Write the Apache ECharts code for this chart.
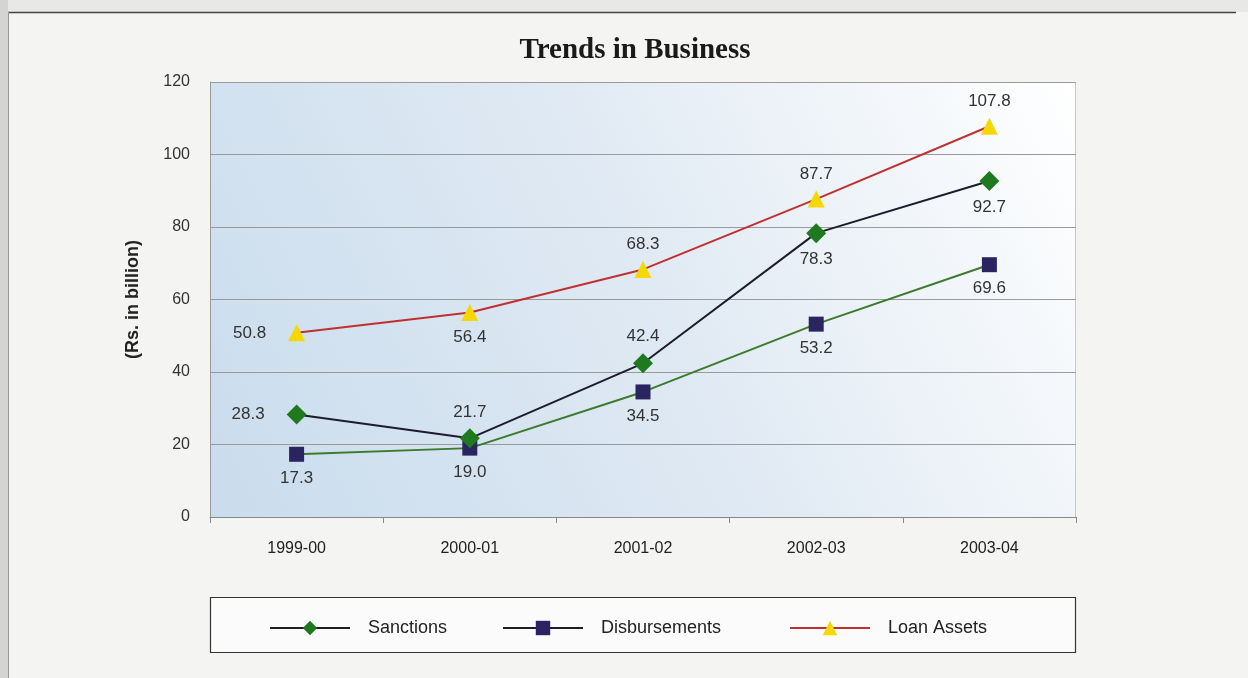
<!DOCTYPE html>
<html><head><meta charset="utf-8">
<script src="https://cdn.jsdelivr.net/npm/echarts@6/dist/echarts.min.js"></script>
<style>html,body{margin:0;padding:0;background:#ececea;}#c{width:1248px;height:678px;}</style>
</head><body><div id="c"></div>
<script>
const categories = ['1999-00','2000-01','2001-02','2002-03','2003-04'];
const sanctions = [28.3, 21.7, 42.4, 78.3, 92.7];
const disbursements = [17.3, 19.0, 34.5, 53.2, 69.6];
const loanAssets = [50.8, 56.4, 68.3, 87.7, 107.8];
const yTicks = [0, 20, 40, 60, 80, 100, 120];

const sancPos = ['left','top','top','bottom','bottom'];
const disbPos = ['bottom','bottom','bottom','bottom','bottom'];
const loanPos = ['left','bottom','top','top','top'];

function withLabels(vals, pos) {
  return vals.map((v, i) => ({ value: v, label: { position: pos[i], distance: pos[i] === 'left' ? 22 : 8 } }));
}

const chart = echarts.init(document.getElementById('c'), null, { renderer: 'canvas' });
const FONT = 'Liberation Sans, Arial, sans-serif';
const labelBase = { show: true, fontFamily: FONT, fontSize: 17, color: '#333', distance: 8, formatter: p => p.value.toFixed(1) };

function legendAt(name, left, lineColor) {
  return {
    left: left, top: 614, itemWidth: 80, itemHeight: 18,
    textStyle: { fontFamily: FONT, fontSize: 18, color: '#222', padding: [0, 0, 0, 13] },
    data: [{ name: name, lineStyle: { color: lineColor, width: 2 } }]
  };
}

chart.setOption({
  backgroundColor: '#f4f4f2',
  animation: false,
  graphic: [
    { type: 'rect', shape: { x: 0, y: 0, width: 1248, height: 12 }, style: { fill: '#e8e8e6' }, silent: true, z: -10 },
    { type: 'rect', shape: { x: 0, y: 0, width: 8, height: 678 }, style: { fill: '#d4d4d2' }, silent: true, z: -10 },
    { type: 'line', shape: { x1: 8, y1: 12.5, x2: 1236, y2: 12.5 }, style: { stroke: '#444', lineWidth: 1.5 }, silent: true },
    { type: 'line', shape: { x1: 8.5, y1: 12, x2: 8.5, y2: 678 }, style: { stroke: '#999', lineWidth: 1 }, silent: true },
    { type: 'rect', shape: { x: 210.5, y: 597.5, width: 865, height: 55 }, style: { fill: '#fbfbfb', stroke: '#333', lineWidth: 1.2 }, silent: true, z: -1 },
    { type: 'rect', shape: { x: 210, y: 82, width: 866, height: 435 },
      style: { fill: new echarts.graphic.LinearGradient(0, 1, 1, 0, [
        { offset: 0, color: '#c9dced' }, { offset: 0.5, color: '#dfe9f3' }, { offset: 0.8, color: '#f2f6fa' }, { offset: 1, color: '#ffffff' }]) },
      silent: true, z: -5 },
    { type: 'line', shape: { x1: 1075.5, y1: 82, x2: 1075.5, y2: 517 }, style: { stroke: '#c8c8c8', lineWidth: 1 }, silent: true }
  ],
  title: {
    text: 'Trends in Business', left: 630, top: 31, textAlign: 'center',
    textStyle: { fontFamily: 'Liberation Serif, DejaVu Serif, serif', fontSize: 29, fontWeight: 'bold', color: '#1a1a1a' }
  },
  grid: { left: 210, right: 172, top: 82, bottom: 161 },
  legend: [
    legendAt('Sanctions', 264, '#1c1c2c'),
    legendAt('Disbursements', 497, '#1c1c2c'),
    legendAt('Loan Assets', 784, '#c03030')
  ],
  xAxis: {
    type: 'category', data: categories, boundaryGap: true,
    axisLine: { lineStyle: { color: '#888' } },
    axisTick: { show: true, length: 6, lineStyle: { color: '#888' } },
    axisLabel: { fontFamily: FONT, fontSize: 16, color: '#222', margin: 24 }
  },
  yAxis: {
    type: 'value', min: yTicks[0], max: yTicks[yTicks.length - 1], interval: 20,
    name: '(Rs. in billion)', nameLocation: 'middle', nameGap: 68, nameRotate: 90,
    nameTextStyle: { fontFamily: FONT, fontSize: 18, fontWeight: 'bold', color: '#222' },
    axisLine: { show: true, lineStyle: { color: '#999' } },
    axisTick: { show: false },
    axisLabel: { fontFamily: FONT, fontSize: 16, color: '#333', margin: 20 },
    splitLine: { show: true, lineStyle: { color: '#9a9a9a', width: 1 } }
  },
  series: [
    { name: 'Sanctions', type: 'line', data: withLabels(sanctions, sancPos),
      symbol: 'diamond', symbolSize: 20,
      itemStyle: { color: '#1f7a1f' }, lineStyle: { color: '#1c1c2c', width: 2 },
      label: labelBase, z: 4 },
    { name: 'Disbursements', type: 'line', data: withLabels(disbursements, disbPos),
      symbol: 'rect', symbolSize: 15,
      itemStyle: { color: '#2a2560' }, lineStyle: { color: '#3c7a2c', width: 2 },
      label: labelBase, z: 3 },
    { name: 'Loan Assets', type: 'line', data: withLabels(loanAssets, loanPos),
      symbol: 'triangle', symbolSize: 17,
      itemStyle: { color: '#f5d800' }, lineStyle: { color: '#c03030', width: 2 },
      label: labelBase, z: 5 }
  ]
});
</script></body></html>
